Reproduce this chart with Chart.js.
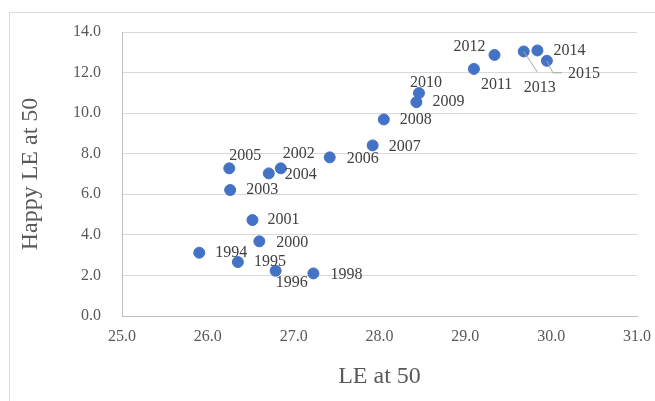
<!DOCTYPE html>
<html>
<head>
<meta charset="utf-8">
<script src="https://cdn.jsdelivr.net/npm/chart.js@4"></script>
<style>
  html, body { margin: 0; padding: 0; background: #fff; }
  #wrap { width: 655px; height: 401px; position: relative; }
</style>
</head>
<body>
<div id="wrap"><canvas id="chart"></canvas></div>
<script>
  const years = [1994, 1995, 1996, 1998, 2000, 2001, 2002, 2003, 2004, 2005,
                 2006, 2007, 2008, 2009, 2010, 2011, 2012, 2013, 2014, 2015];
  const leAt50 = [25.90, 26.35, 26.79, 27.23, 26.60, 26.52, 26.85, 26.26, 26.71, 26.25,
                  27.42, 27.92, 28.05, 28.43, 28.46, 29.10, 29.34, 29.68, 29.84, 29.95];
  const happyLeAt50 = [3.12, 2.66, 2.23, 2.10, 3.68, 4.73, 7.28, 6.21, 7.03, 7.28,
                       7.82, 8.41, 9.69, 10.54, 10.99, 12.18, 12.87, 13.04, 13.09, 12.58];
  const xTicks = [25, 26, 27, 28, 29, 30, 31];
  const yTicks = [0, 2, 4, 6, 8, 10, 12, 14];

  // label placement relative to each dot: [dx of text left edge, dy of text middle, leader line]
  const labelPlace = {
    1994: [16, 0], 1995: [16, 0], 1996: [0, 12], 1998: [17, 1],
    2000: [17, 1], 2001: [15, 0], 2002: [2, -15], 2003: [16, 0],
    2004: [16, 1], 2005: [0, -13], 2006: [17, 1], 2007: [16, 1],
    2008: [16, 0], 2009: [16, 0], 2010: [-9, -10], 2011: [7, 16],
    2012: [-41, -8], 2013: [0, 36, [[0, 0], [14, 21]]], 2014: [16, 0],
    2015: [21, 13, [[0, 0], [6, 12], [15, 12]]]
  };

  const serif = "'Liberation Serif', 'Times New Roman', serif";

  const frame = {
    id: 'frame',
    beforeDraw(chart) {
      const ctx = chart.ctx;
      ctx.save();
      ctx.strokeStyle = '#d9d9d9';
      ctx.lineWidth = 1;
      ctx.strokeRect(9.5, 12.5, chart.width + 10, chart.height + 10);
      ctx.restore();
    }
  };

  const pointLabels = {
    id: 'pointLabels',
    afterDatasetsDraw(chart) {
      const ctx = chart.ctx;
      const meta = chart.getDatasetMeta(0);
      ctx.save();
      ctx.font = '16px ' + serif;
      ctx.textBaseline = 'middle';
      ctx.textAlign = 'left';
      meta.data.forEach((pt, i) => {
        const p = labelPlace[years[i]] || [16, 0];
        if (p[2]) {
          ctx.strokeStyle = '#a6a6a6';
          ctx.lineWidth = 1;
          ctx.beginPath();
          p[2].forEach((q, k) => {
            if (k === 0) ctx.moveTo(pt.x + q[0], pt.y + q[1]);
            else ctx.lineTo(pt.x + q[0], pt.y + q[1]);
          });
          ctx.stroke();
        }
        ctx.fillStyle = '#404040';
        ctx.fillText(String(years[i]), pt.x + p[0], pt.y + p[1]);
      });
      ctx.restore();
    }
  };

  new Chart(document.getElementById('chart'), {
    type: 'scatter',
    data: {
      datasets: [{
        data: leAt50.map((x, i) => ({ x: x, y: happyLeAt50[i] })),
        backgroundColor: '#4472c4',
        borderColor: '#4472c4',
        pointRadius: 5.5,
        pointHoverRadius: 5.5
      }]
    },
    options: {
      responsive: true,
      maintainAspectRatio: false,
      animation: false,
      layout: { padding: { top: 32, right: 18, bottom: 0, left: 0 } },
      plugins: { legend: { display: false }, tooltip: { enabled: false } },
      scales: {
        x: {
          type: 'linear',
          min: xTicks[0],
          max: xTicks[xTicks.length - 1],
          afterBuildTicks: s => { s.ticks = xTicks.map(v => ({ value: v })); },
          afterFit: s => { s.height = 85; s.paddingLeft = 0; s.paddingRight = 0; },
          grid: { display: false, drawTicks: false },
          border: { display: true, color: '#bfbfbf', width: 1 },
          ticks: {
            padding: 11,
            color: '#595959',
            font: { family: serif, size: 16 },
            callback: v => Number(v).toFixed(1)
          },
          title: {
            display: true,
            text: 'LE at 50',
            color: '#595959',
            font: { family: serif, size: 24 },
            padding: { top: 0, bottom: 10 }
          }
        },
        y: {
          type: 'linear',
          min: yTicks[0],
          max: yTicks[yTicks.length - 1],
          afterBuildTicks: s => { s.ticks = yTicks.map(v => ({ value: v })); },
          afterFit: s => { s.width = 122; s.paddingTop = 0; s.paddingBottom = 0; },
          grid: { color: '#d9d9d9', lineWidth: 1, drawTicks: false },
          border: { display: true, color: '#bfbfbf', width: 1 },
          ticks: {
            padding: 21,
            color: '#595959',
            font: { family: serif, size: 16 },
            callback: v => Number(v).toFixed(1)
          },
          title: {
            display: true,
            text: 'Happy LE at 50',
            color: '#595959',
            font: { family: serif, size: 24 },
            padding: { top: 16, bottom: 0 }
          }
        }
      }
    },
    plugins: [frame, pointLabels]
  });
</script>
</body>
</html>
